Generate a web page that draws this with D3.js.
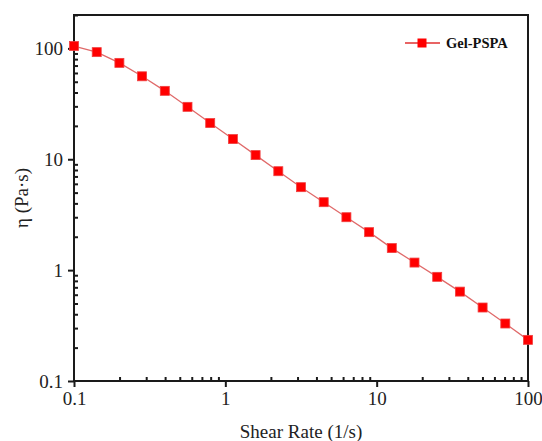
<!DOCTYPE html>
<html>
<head>
<meta charset="utf-8">
<script src="https://cdn.jsdelivr.net/npm/d3@7"></script>
<style>
  html, body { margin: 0; padding: 0; background: #fff; }
  svg text { font-family: "Liberation Serif", "Times New Roman", "DejaVu Serif", serif !important; }
</style>
</head>
<body>
<svg id="chart" width="542" height="441"></svg>
<script>
// Shear rate (1/s) and viscosity (Pa·s) for Gel-PSPA
const shearRate = [0.1, 0.1413, 0.1995, 0.2818, 0.3981, 0.5623, 0.7943, 1.122, 1.585, 2.239, 3.162,
                   4.467, 6.310, 8.913, 12.59, 17.78, 25.12, 35.48, 50.12, 70.79, 100];
const viscosity = [105, 92.5, 74, 56, 41.4, 29.7, 21.2, 15.2, 10.9, 7.8, 5.6,
                   4.1, 3.0, 2.2, 1.58, 1.17, 0.87, 0.64, 0.46, 0.33, 0.235];
const seriesName = "Gel-PSPA";
const xTicks = [0.1, 1, 10, 100];
const yTicks = [0.1, 1, 10, 100];
const xLabel = "Shear Rate (1/s)";
const yLabel = "η (Pa·s)";

const svg = d3.select("#chart");
const m = { left: 74, right: 528, top: 15, bottom: 381 };

const x = d3.scaleLog().domain([0.1, 100]).range([m.left, m.right]);
const y = d3.scaleLog().domain([0.1, 200]).range([m.bottom, m.top]);

const axisColor = "#1a1a1a";
const fontStack = "'Liberation Serif', 'Times New Roman', 'DejaVu Serif', serif";

// minor ticks (2..9 within each decade), drawn inward
const minorX = [], minorY = [];
for (let d = 0.1; d < 100; d *= 10) for (let k = 2; k <= 9; k++) minorX.push(d * k);
for (let d = 0.1; d < 200; d *= 10) for (let k = 2; k <= 9; k++) if (d * k <= 200) minorY.push(d * k);

const gx = svg.append("g").attr("transform", `translate(0,${m.bottom})`);
gx.call(d3.axisBottom(x).tickValues(minorX).tickSize(-4).tickFormat(""));
gx.append("g").call(d3.axisBottom(x).tickValues(xTicks).tickSize(6).tickPadding(5)
  .tickFormat(d => d3.format("~g")(d)));
gx.selectAll(".domain").remove();
gx.selectAll("line").attr("stroke", axisColor).attr("stroke-width", 2);
gx.selectAll("text").style("font-family", fontStack).style("font-size", "19px").attr("fill", "#222");

const gy = svg.append("g").attr("transform", `translate(${m.left},0)`);
gy.call(d3.axisLeft(y).tickValues(minorY).tickSize(-4).tickFormat(""));
gy.append("g").call(d3.axisLeft(y).tickValues(yTicks).tickSize(6).tickPadding(5)
  .tickFormat(d => d3.format("~g")(d)));
gy.selectAll(".domain").remove();
gy.selectAll("line").attr("stroke", axisColor).attr("stroke-width", 2);
gy.selectAll("text").style("font-family", fontStack).style("font-size", "19px").attr("fill", "#222");

// frame
svg.append("rect")
  .attr("x", m.left).attr("y", m.top)
  .attr("width", m.right - m.left).attr("height", m.bottom - m.top)
  .attr("fill", "none").attr("stroke", axisColor).attr("stroke-width", 2);

// data line and markers
const pts = shearRate.map((s, i) => [s, viscosity[i]]);
svg.append("path")
  .datum(pts)
  .attr("fill", "none")
  .attr("stroke", "#e06a6a")
  .attr("stroke-width", 1.3)
  .attr("d", d3.line().x(d => x(d[0])).y(d => y(d[1])));

const ms = 9;
svg.append("g").selectAll("rect").data(pts).join("rect")
  .attr("x", d => x(d[0]) - ms / 2)
  .attr("y", d => y(d[1]) - ms / 2)
  .attr("width", ms).attr("height", ms)
  .attr("fill", "#ff0000")
  .attr("stroke", "#f04040").attr("stroke-width", 0.8);

// legend
const lg = svg.append("g").attr("transform", "translate(405,43)");
lg.append("line").attr("x1", 0).attr("x2", 35).attr("y1", 0).attr("y2", 0)
  .attr("stroke", "#e03030").attr("stroke-width", 1.5);
lg.append("rect").attr("x", 17 - ms / 2).attr("y", -ms / 2).attr("width", ms).attr("height", ms)
  .attr("fill", "#ff0000");
lg.append("text").attr("x", 41).attr("y", 5)
  .style("font-family", fontStack).style("font-size", "14.5px").style("font-weight", "bold")
  .attr("fill", "#111").text(seriesName);

// axis titles
svg.append("text")
  .attr("x", (m.left + m.right) / 2).attr("y", 438)
  .attr("text-anchor", "middle")
  .style("font-family", fontStack).style("font-size", "19px")
  .attr("fill", "#222")
  .text(xLabel);

svg.append("text")
  .attr("transform", `translate(28,${(m.top + m.bottom) / 2}) rotate(-90)`)
  .attr("text-anchor", "middle")
  .style("font-family", fontStack).style("font-size", "19px")
  .attr("fill", "#222")
  .text(yLabel);
</script>
</body>
</html>
